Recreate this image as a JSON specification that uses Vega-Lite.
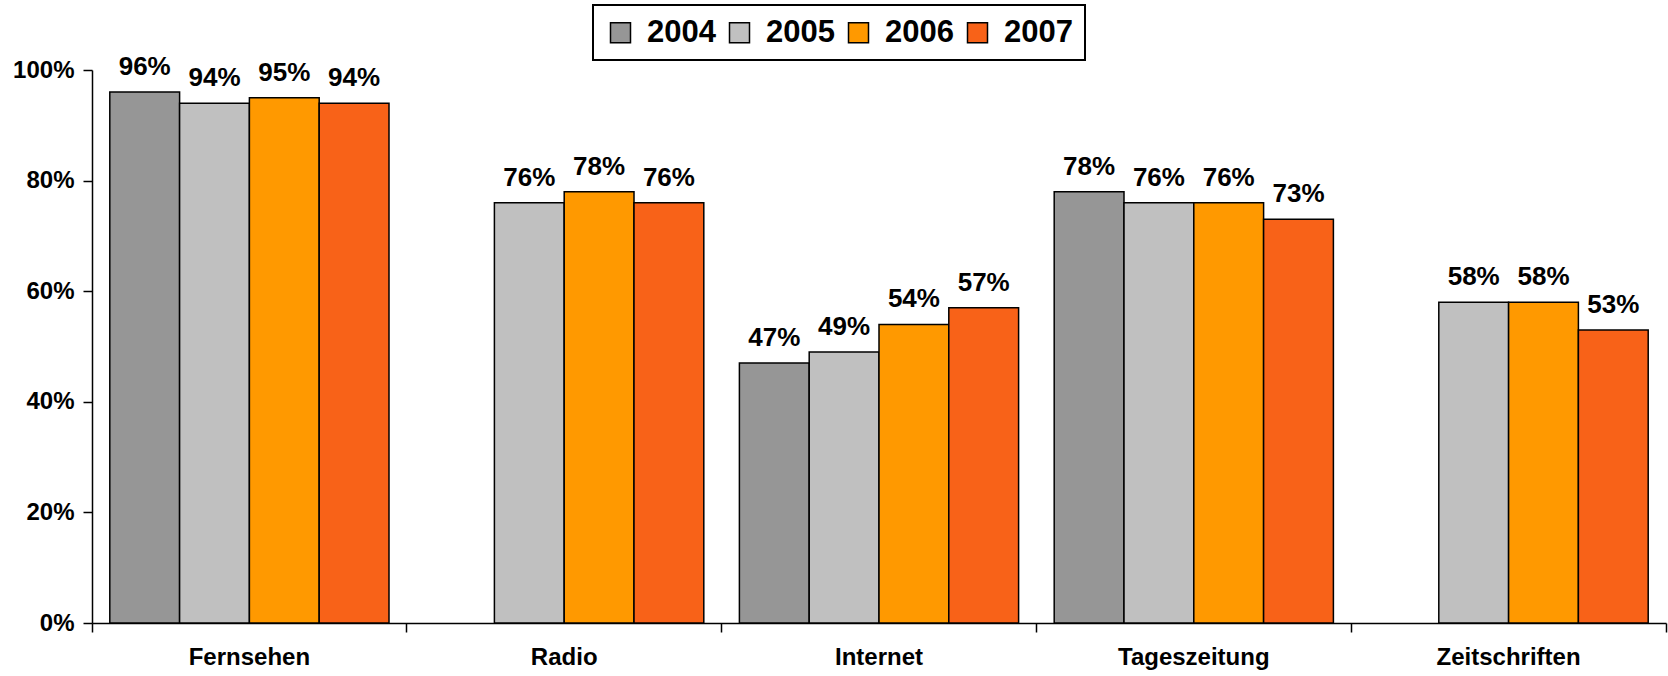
{
  "$schema": "https://vega.github.io/schema/vega-lite/v6.json",
  "autosize": "none",
  "padding": {"left": 92, "top": 70, "right": 2, "bottom": 53},
  "width": 1574,
  "height": 553,
  "background": "white",
  "config": {
    "view": {"stroke": null},
    "font": "Liberation Sans",
    "axis": {"labelFont": "Liberation Sans", "labelFontWeight": "bold", "labelColor": "black", "domainColor": "black", "tickColor": "black", "domainWidth": 1.5, "tickWidth": 1.5, "grid": false, "title": null}
  },
  "data": {
    "values": [
      {"Kategorie": "Fernsehen", "Jahr": "2004", "Wert": 0.96},
      {"Kategorie": "Fernsehen", "Jahr": "2005", "Wert": 0.94},
      {"Kategorie": "Fernsehen", "Jahr": "2006", "Wert": 0.95},
      {"Kategorie": "Fernsehen", "Jahr": "2007", "Wert": 0.94},
      {"Kategorie": "Radio", "Jahr": "2005", "Wert": 0.76},
      {"Kategorie": "Radio", "Jahr": "2006", "Wert": 0.78},
      {"Kategorie": "Radio", "Jahr": "2007", "Wert": 0.76},
      {"Kategorie": "Internet", "Jahr": "2004", "Wert": 0.47},
      {"Kategorie": "Internet", "Jahr": "2005", "Wert": 0.49},
      {"Kategorie": "Internet", "Jahr": "2006", "Wert": 0.54},
      {"Kategorie": "Internet", "Jahr": "2007", "Wert": 0.57},
      {"Kategorie": "Tageszeitung", "Jahr": "2004", "Wert": 0.78},
      {"Kategorie": "Tageszeitung", "Jahr": "2005", "Wert": 0.76},
      {"Kategorie": "Tageszeitung", "Jahr": "2006", "Wert": 0.76},
      {"Kategorie": "Tageszeitung", "Jahr": "2007", "Wert": 0.73},
      {"Kategorie": "Zeitschriften", "Jahr": "2005", "Wert": 0.58},
      {"Kategorie": "Zeitschriften", "Jahr": "2006", "Wert": 0.58},
      {"Kategorie": "Zeitschriften", "Jahr": "2007", "Wert": 0.53}
    ]
  },
  "encoding": {
    "x": {
      "field": "Kategorie", "type": "nominal",
      "sort": ["Fernsehen", "Radio", "Internet", "Tageszeitung", "Zeitschriften"],
      "scale": {"paddingInner": 0, "paddingOuter": 0},
      "axis": {"labelAngle": 0, "labelFontSize": 24, "tickSize": 9, "labelPadding": 13, "bandPosition": 1, "tickExtra": true}
    },
    "xOffset": {
      "field": "Jahr", "type": "nominal",
      "scale": {"domain": ["2004", "2005", "2006", "2007"], "paddingInner": 0, "paddingOuter": 0.255}
    },
    "y": {
      "field": "Wert", "type": "quantitative",
      "scale": {"domain": [0, 1], "nice": false},
      "axis": {"format": ".0%", "values": [0, 0.2, 0.4, 0.6, 0.8, 1], "labelFontSize": 24, "tickSize": 9, "labelPadding": 9}
    }
  },
  "layer": [
    {
      "mark": {"type": "bar", "stroke": "black", "strokeWidth": 1.5},
      "encoding": {
        "color": {
          "field": "Jahr", "type": "nominal",
          "scale": {"domain": ["2004", "2005", "2006", "2007"], "range": ["#969696", "#C0C0C0", "#FF9900", "#F86218"]},
          "legend": {
            "title": null,
            "orient": "none",
            "legendX": 501,
            "legendY": -65,
            "direction": "horizontal",
            "columns": 4,
            "symbolType": "square",
            "symbolSize": 400,
            "symbolStrokeColor": "black",
            "symbolStrokeWidth": 1.5,
            "symbolOpacity": 1,
            "labelFont": "Liberation Sans",
            "labelFontSize": 31,
            "labelFontWeight": "bold",
            "labelColor": "black",
            "labelOffset": 11,
            "columnPadding": 8,
            "padding": 12,
            "strokeColor": "black",
            "encode": {"legend": {"update": {"strokeWidth": {"value": 2}}}}
          }
        }
      }
    },
    {
      "mark": {"type": "text", "baseline": "alphabetic", "dy": -17, "fontSize": 26, "fontWeight": "bold", "color": "black", "font": "Liberation Sans"},
      "encoding": {
        "text": {"field": "Wert", "type": "quantitative", "format": ".0%"}
      }
    }
  ]
}
